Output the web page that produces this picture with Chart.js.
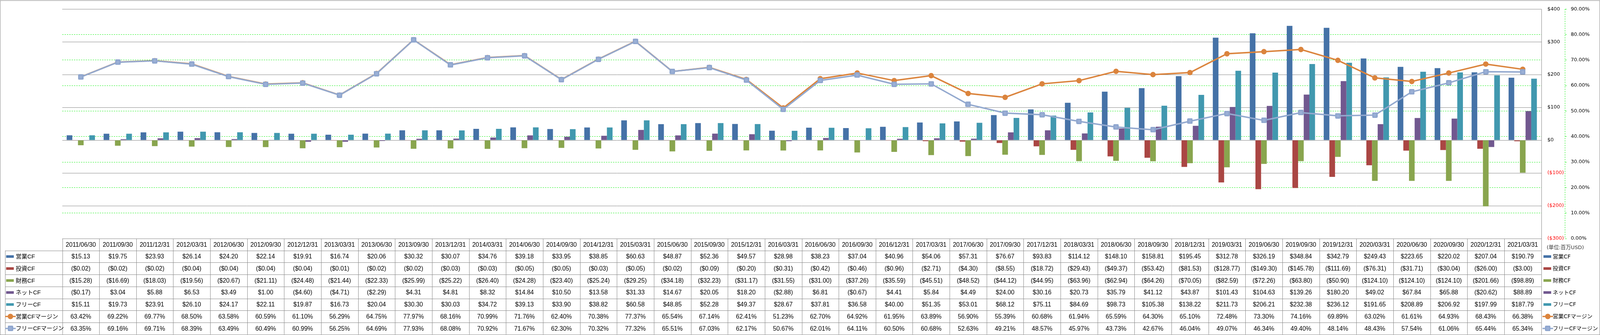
<!DOCTYPE html>
<html lang="ja">
<head>
<meta charset="utf-8">
<title>キャッシュフロー推移</title>
<script src="https://cdn.jsdelivr.net/npm/chart.js@4.4.1/dist/chart.umd.min.js"></script>
<style>
  html, body { margin: 0; padding: 0; background: #ffffff; overflow: hidden; }
  #wrap { width: 100vw; height: 100vh; position: relative; }
</style>
</head>
<body>
<div id="wrap"><canvas id="cfChart"></canvas></div>
<script>
// 四半期ごとの決算日(表の見出し)
const periods = [
  "2011/06/30", "2011/09/30", "2011/12/31", "2012/03/31", "2012/06/30", "2012/09/30", "2012/12/31", "2013/03/31",
  "2013/06/30", "2013/09/30", "2013/12/31", "2014/03/31", "2014/06/30", "2014/09/30", "2014/12/31", "2015/03/31",
  "2015/06/30", "2015/09/30", "2015/12/31", "2016/03/31", "2016/06/30", "2016/09/30", "2016/12/31", "2017/03/31",
  "2017/06/30", "2017/09/30", "2017/12/31", "2018/03/31", "2018/06/30", "2018/09/30", "2018/12/31", "2019/03/31",
  "2019/06/30", "2019/09/30", "2019/12/31", "2020/03/31", "2020/06/30", "2020/09/30", "2020/12/31", "2021/03/31",
];

// 各キャッシュフロー(百万USD)
const operatingCF = [
  15.13, 19.75, 23.93, 26.14, 24.20, 22.14, 19.91, 16.74, 20.06, 30.32, 30.07, 34.76, 39.18, 33.95, 38.85, 60.63,
  48.87, 52.36, 49.57, 28.98, 38.23, 37.04, 40.96, 54.06, 57.31, 76.67, 93.83, 114.12, 148.10, 158.81, 195.45, 312.78,
  326.19, 348.84, 342.79, 249.43, 223.65, 220.02, 207.04, 190.79,
];
const investingCF = [
  -0.02, -0.02, -0.02, -0.04, -0.04, -0.04, -0.04, -0.01, -0.02, -0.02, -0.03, -0.03, -0.05, -0.05, -0.03, -0.05,
  -0.02, -0.09, -0.20, -0.31, -0.42, -0.46, -0.96, -2.71, -4.30, -8.55, -18.72, -29.43, -49.37, -53.42, -81.53, -128.77,
  -149.30, -145.78, -111.69, -76.31, -31.71, -30.04, -26.00, -3.00,
];
const financingCF = [
  -15.28, -16.69, -18.03, -19.56, -20.67, -21.11, -24.48, -21.44, -22.33, -25.99, -25.22, -26.40, -24.28, -23.40, -25.24, -29.25,
  -34.18, -32.23, -31.17, -31.55, -31.00, -37.26, -35.59, -45.51, -48.52, -44.12, -44.95, -63.96, -62.94, -64.26, -70.05, -82.59,
  -72.26, -63.80, -50.90, -124.10, -124.10, -124.10, -201.66, -98.89,
];
const netCF = [
  -0.17, 3.04, 5.88, 6.53, 3.49, 1.00, -4.60, -4.71, -2.29, 4.31, 4.81, 8.32, 14.84, 10.50, 13.58, 31.33,
  14.67, 20.05, 18.20, -2.88, 6.81, -0.67, 4.41, 5.84, 4.49, 24.00, 30.16, 20.73, 35.79, 41.12, 43.87, 101.43,
  104.63, 139.26, 180.20, 49.02, 67.84, 65.88, -20.62, 88.89,
];
const freeCF = [
  15.11, 19.73, 23.91, 26.10, 24.17, 22.11, 19.87, 16.73, 20.04, 30.30, 30.03, 34.72, 39.13, 33.90, 38.82, 60.58,
  48.85, 52.28, 49.37, 28.67, 37.81, 36.58, 40.00, 51.35, 53.01, 68.12, 75.11, 84.69, 98.73, 105.38, 138.22, 211.73,
  206.21, 232.38, 236.12, 191.65, 208.89, 206.92, 197.99, 187.79,
];

// マージン(%)
const operatingMargin = [
  63.42, 69.22, 69.77, 68.50, 63.58, 60.59, 61.10, 56.29, 64.75, 77.97, 68.16, 70.99, 71.76, 62.40, 70.38, 77.37,
  65.54, 67.14, 62.41, 51.23, 62.70, 64.92, 61.95, 63.89, 56.90, 55.39, 60.68, 61.94, 65.59, 64.30, 65.10, 72.48,
  73.30, 74.16, 69.89, 63.02, 61.61, 64.93, 68.43, 66.38,
];
const freeMargin = [
  63.35, 69.16, 69.71, 68.39, 63.49, 60.49, 60.99, 56.25, 64.69, 77.93, 68.08, 70.92, 71.67, 62.30, 70.32, 77.32,
  65.51, 67.03, 62.17, 50.67, 62.01, 64.11, 60.50, 60.68, 52.63, 49.21, 48.57, 45.97, 43.73, 42.67, 46.04, 49.07,
  46.34, 49.40, 48.14, 48.43, 57.54, 61.06, 65.44, 65.34,
];

const unitLabel = "(単位:百万USD)";

// 元の図の大きさ(実際の画面サイズに合わせて拡大縮小する)
const BASE_W = 4981;
const BASE_H = 858;
const wrapEl = document.getElementById("wrap");
const SX = wrapEl.clientWidth / BASE_W;
const SY = wrapEl.clientHeight / BASE_H;
const S = Math.min(SX, SY);

const GRID_GRAY = "#868686";
const GRID_GREEN = "#00ee00";
const LATIN_CJK = "'Liberation Sans', 'Noto Sans CJK JP', sans-serif";
const WIDE_CJK = "'DejaVu Sans', 'Noto Sans CJK JP', sans-serif";

function money(v) {
  return v < 0 ? `($${Math.abs(v).toFixed(2)})` : `$${v.toFixed(2)}`;
}
function percent(v) {
  return `${v.toFixed(2)}%`;
}

// フリーCFマージン用の角丸四角マーカー
function makeSquareMarker(color, inner) {
  const side = Math.round(17 * S);
  const c = document.createElement("canvas");
  c.width = side;
  c.height = side;
  const g = c.getContext("2d");
  g.fillStyle = color;
  g.beginPath();
  g.roundRect(0, 0, side, side, 3 * S);
  g.fill();
  g.fillStyle = inner;
  const pad = side * 0.25;
  g.fillRect(pad, pad, side - pad * 2, side - pad * 2);
  return c;
}
const squareMarker = makeSquareMarker("#8FA6CE", "#9BB0D6");

// 表の行(凡例キーと書式)
const tableRows = [
  { label: "営業CF", values: operatingCF, color: "#4572A7", kind: "bar", fmt: money },
  { label: "投資CF", values: investingCF, color: "#AA4643", kind: "bar", fmt: money },
  { label: "財務CF", values: financingCF, color: "#89A54E", kind: "bar", fmt: money },
  { label: "ネットCF", values: netCF, color: "#71588F", kind: "bar", fmt: money },
  { label: "フリーCF", values: freeCF, color: "#4198AF", kind: "bar", fmt: money },
  { label: "営業CFマージン", values: operatingMargin, color: "#DB843D", kind: "circle", fmt: percent },
  { label: "フリーCFマージン", values: freeMargin, color: "#93A9CF", kind: "square", fmt: percent },
];

// 凡例キーを描く(棒は四角、折れ線は線+マーカー)
function drawKey(ctx, row, x, y) {
  ctx.save();
  ctx.fillStyle = row.color;
  ctx.strokeStyle = row.color;
  if (row.kind === "bar") {
    ctx.fillRect(x + 3 * S, y - 4 * S, 24 * S, 8 * S);
  } else {
    ctx.lineWidth = 4 * S;
    ctx.beginPath();
    ctx.moveTo(x, y);
    ctx.lineTo(x + 33 * S, y);
    ctx.stroke();
    Chart.helpers.drawPoint(ctx, {
      pointStyle: row.kind === "circle" ? "circle" : squareMarker,
      radius: 8.5 * S,
      rotation: 0,
      borderWidth: 0,
    }, x + 16.5 * S, y);
  }
  ctx.restore();
}

// データテーブルと枠線、右側の凡例を描くプラグイン
const dataTablePlugin = {
  id: "dataTable",
  afterDraw(chart) {
    const ctx = chart.ctx;
    const area = chart.chartArea;
    const xScale = chart.scales.x;
    const y1 = chart.scales.y1;
    const colW = (area.right - area.left) / periods.length;
    const rowH = 30.7 * SY;
    const top = area.bottom;
    const bottom = top + rowH * (tableRows.length + 1);
    const crisp = (v) => Math.round(v) + 0.5;
    const line = (x1, y1p, x2, y2p) => {
      ctx.beginPath();
      ctx.moveTo(x1, y1p);
      ctx.lineTo(x2, y2p);
      ctx.stroke();
    };

    ctx.save();
    ctx.strokeStyle = GRID_GRAY;
    ctx.lineWidth = 1;

    // 外枠
    ctx.strokeRect(0.5, 1.5, chart.width - 1, chart.height - 2);

    // プロット上端と右端
    line(area.left, crisp(area.top), area.right, crisp(area.top));
    line(crisp(area.right), area.top, crisp(area.right), bottom);

    // 表の横線
    line(area.left, crisp(top), area.right, crisp(top));
    const leftEdge = 16 * SX;
    for (let r = 1; r <= tableRows.length + 1; r++) {
      const yy = crisp(top + rowH * r);
      line(leftEdge, yy, area.right, yy);
    }
    // 表の縦線
    line(crisp(leftEdge), top + rowH, crisp(leftEdge), bottom);
    for (let i = 0; i <= periods.length; i++) {
      const xx = crisp(area.left + colW * i);
      line(xx, top, xx, bottom);
    }

    // 右軸(%)の縦の破線
    ctx.strokeStyle = GRID_GREEN;
    ctx.setLineDash([3, 3]);
    line(crisp(y1.left) - 1, area.top, crisp(y1.left) - 1, area.bottom);
    ctx.setLineDash([]);

    // 表の文字
    ctx.fillStyle = "#000000";
    ctx.font = `${19 * S}px ${LATIN_CJK}`;
    ctx.textAlign = "center";
    ctx.textBaseline = "middle";
    periods.forEach((p, i) => {
      ctx.fillText(p, xScale.getPixelForValue(i), top + rowH / 2 + 1);
    });
    tableRows.forEach((row, r) => {
      const cy = top + rowH * (r + 1.5) + 1;
      row.values.forEach((v, i) => {
        ctx.fillText(row.fmt(v), xScale.getPixelForValue(i), cy);
      });
    });

    // 左の行見出し
    ctx.font = `${18 * S}px ${LATIN_CJK}`;
    ctx.textAlign = "left";
    tableRows.forEach((row, r) => {
      const cy = top + rowH * (r + 1.5);
      drawKey(ctx, row, leftEdge, cy);
      ctx.fillStyle = "#000000";
      ctx.fillText(row.label, 49 * SX, cy + 1);
    });

    // 右の凡例
    ctx.font = `${17 * S}px ${WIDE_CJK}`;
    tableRows.forEach((row, r) => {
      const cy = top + rowH * (r + 1.5);
      drawKey(ctx, row, area.right + 4 * SX, cy);
      ctx.fillStyle = "#000000";
      ctx.fillText(row.label, area.right + 36 * SX, cy + 1);
    });

    // 単位
    ctx.font = `${16 * S}px ${WIDE_CJK}`;
    ctx.fillStyle = "#333333";
    ctx.fillText(unitLabel, area.right + 17 * SX, top + rowH / 2 + 8 * SY);
    ctx.restore();
  },
};

function barSet(label, data, color) {
  return {
    type: "bar",
    label,
    data,
    backgroundColor: color,
    borderWidth: 0,
    yAxisID: "y",
    order: 2,
    barPercentage: 1,
    categoryPercentage: 0.765,
  };
}

function lineSet(label, data, color, style, radius, order) {
  return {
    type: "line",
    label,
    data,
    yAxisID: "y1",
    order,
    borderColor: color,
    backgroundColor: color,
    borderWidth: 4.5 * S,
    pointStyle: style,
    pointRadius: radius * S,
    pointBorderWidth: 0,
    tension: 0,
  };
}

function createChart() {
  const ctx = document.getElementById("cfChart").getContext("2d");
  const axisFont = { family: WIDE_CJK, size: 15.5 * S };

  new Chart(ctx, {
    data: {
      labels: periods,
      datasets: [
        lineSet("フリーCFマージン", freeMargin, "#93A9CF", squareMarker, 8.5, 0),
        lineSet("営業CFマージン", operatingMargin, "#DB843D", "circle", 8.5, 1),
        barSet("営業CF", operatingCF, "#4572A7"),
        barSet("投資CF", investingCF, "#AA4643"),
        barSet("財務CF", financingCF, "#89A54E"),
        barSet("ネットCF", netCF, "#71588F"),
        barSet("フリーCF", freeCF, "#4198AF"),
      ],
    },
    options: {
      responsive: true,
      maintainAspectRatio: false,
      devicePixelRatio: 1,
      animation: false,
      layout: {
        padding: { left: 194 * SX, top: 13 * SY, right: 0, bottom: 247 * SY },
      },
      plugins: {
        legend: { display: false },
        tooltip: { enabled: false },
      },
      scales: {
        x: {
          type: "category",
          display: false,
          offset: true,
          grid: { display: false },
        },
        y: {
          position: "right",
          weight: 0,
          min: -300,
          max: 400,
          afterFit: (scale) => { scale.width = 75 * SX; },
          border: { display: false },
          grid: { color: GRID_GRAY, drawTicks: false },
          ticks: {
            stepSize: 100,
            padding: 19 * SX,
            font: axisFont,
            color: (c) => (c.tick && c.tick.value < 0 ? "#ff0000" : "#000000"),
            callback: (v) => (v < 0 ? `($${Math.abs(v)})` : `$${v}`),
          },
        },
        y1: {
          position: "right",
          weight: 1,
          min: 0,
          max: 90,
          afterFit: (scale) => { scale.width = 108 * SX; },
          border: { display: false, dash: [3, 3] },
          grid: {
            color: (c) => (c.tick && (c.tick.value === 0 || c.tick.value === 90) ? "rgba(0,0,0,0)" : GRID_GREEN),
            drawTicks: true,
            tickLength: 4 * SX,
            tickColor: GRID_GREEN,
            tickBorderDash: [],
          },
          ticks: {
            stepSize: 10,
            padding: 13 * SX,
            font: axisFont,
            color: "#000000",
            callback: (v) => percent(v),
          },
        },
      },
    },
    plugins: [dataTablePlugin],
  });
}

createChart();
</script>
</body>
</html>
